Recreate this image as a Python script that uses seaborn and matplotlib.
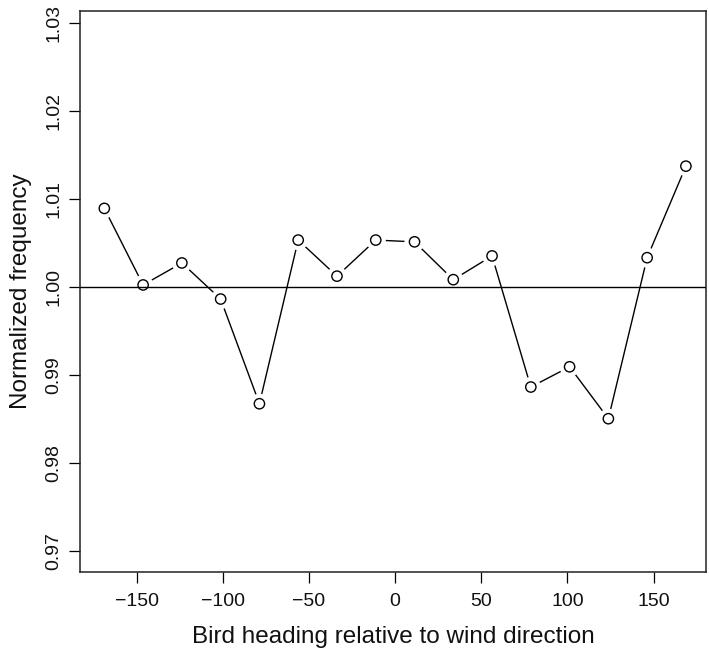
import matplotlib
matplotlib.use("Agg")
import matplotlib.pyplot as plt
import seaborn as sns
import pandas as pd

heading = [-168.75, -146.25, -123.75, -101.25, -78.75, -56.25, -33.75, -11.25,
           11.25, 33.75, 56.25, 78.75, 101.25, 123.75, 146.25, 168.75]
freq = [1.0089, 1.0002, 1.0027, 0.9986, 0.9867, 1.0053, 1.0012, 1.0053,
        1.0051, 1.0008, 1.0035, 0.9886, 0.9909, 0.9850, 1.0033, 1.0137]
xticks = [-150, -100, -50, 0, 50, 100, 150]
yticks = [0.97, 0.98, 0.99, 1.00, 1.01, 1.02, 1.03]

df = pd.DataFrame({"heading": heading, "freq": freq})

sns.set_theme(style="white")
plt.rcParams["font.family"] = ["Liberation Sans", "DejaVu Sans"]

fig = plt.figure(figsize=(7.09, 6.52), dpi=100)
ax = fig.add_axes([0.1135, 0.1227, 0.8825, 0.8604])

sns.lineplot(data=df, x="heading", y="freq", ax=ax, color="black", lw=1.0,
             sort=False, estimator=None, zorder=2)
# white halo to create gaps around points (like R type="b")
sns.scatterplot(data=df, x="heading", y="freq", ax=ax, s=210, color="white",
                edgecolor="none", zorder=3)
ax.axhline(1.0, color="black", lw=1.0, zorder=3.5)
sns.scatterplot(data=df, x="heading", y="freq", ax=ax, s=55, facecolor="none",
                edgecolor="black", linewidth=1.0, zorder=4)

ax.set_xlim(-182.6, 180.5)
ax.set_ylim(0.96758, 1.03133)
ax.set_xticks(xticks)
ax.set_xticklabels(["\u2212150", "\u2212100", "\u221250", "0", "50", "100", "150"])
ax.set_yticks(yticks)
ax.set_yticklabels([f"{v:.2f}" for v in yticks], rotation=90, va="center")
ax.tick_params(axis="both", which="major", direction="out", length=8, width=0.9,
               color="black", labelsize=14, labelcolor="#111111", pad=7,
               bottom=True, left=True)
ax.tick_params(axis="y", pad=5)
for sp in ax.spines.values():
    sp.set_color("#222222")
    sp.set_linewidth(1.1)
ax.set_xlabel("Bird heading relative to wind direction", fontsize=17.5, labelpad=12,
              color="#111111")
ax.set_ylabel("Normalized frequency", fontsize=17.5, labelpad=10, color="#111111")
ax.grid(False)

fig.savefig("out.png", dpi=100, facecolor="white")
